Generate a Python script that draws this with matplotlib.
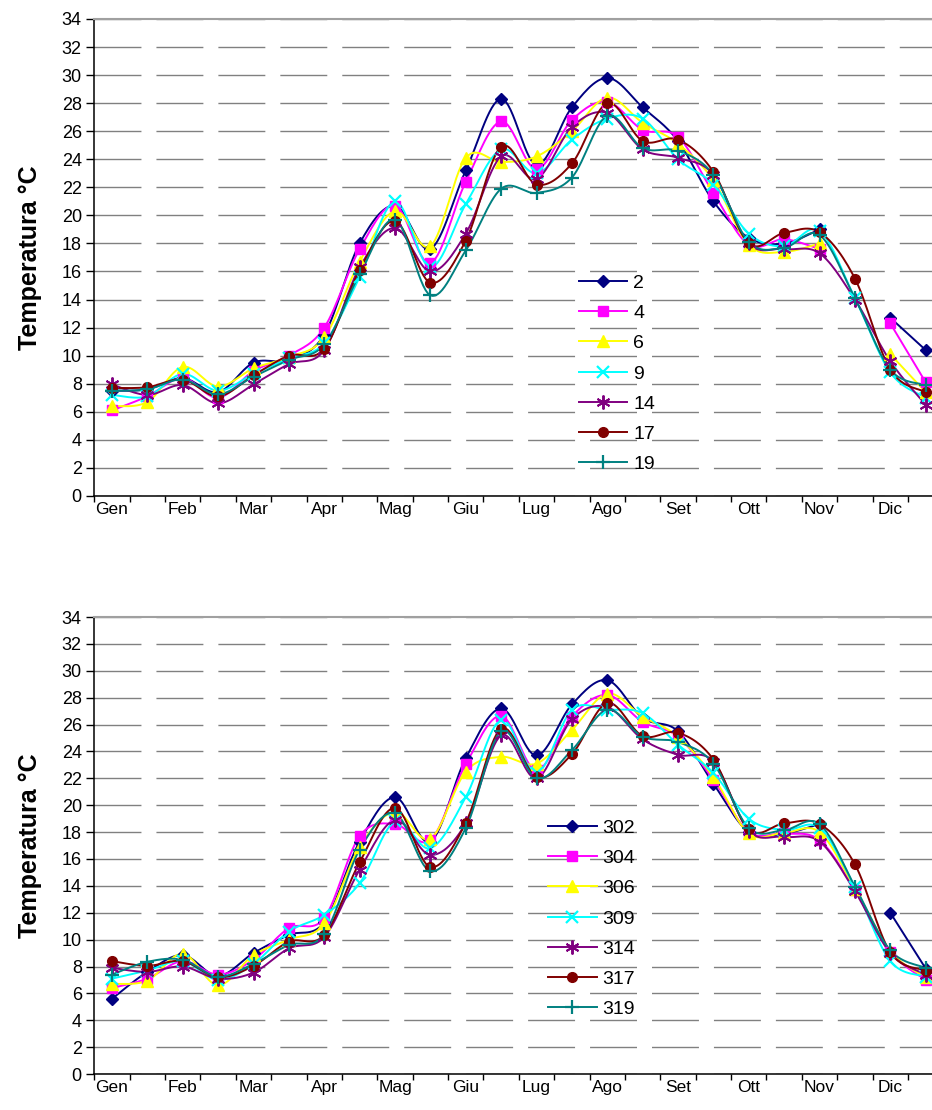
import numpy as np
import matplotlib.pyplot as plt
from matplotlib.lines import Line2D

plt.rcParams['font.family'] = ['Liberation Sans', 'DejaVu Sans']

nan = np.nan

# 24 half-month readings, labels on every second one
months = ['Gen', 'Feb', 'Mar', 'Apr', 'Mag', 'Giu', 'Lug', 'Ago', 'Set', 'Ott', 'Nov', 'Dic']

top_labels = ['2', '4', '6', '9', '14', '17', '19']
t2 = [7.5, 7.6, 8.4, 7.4, 9.5, 9.7, 11.5, 18.0, 20.7, 17.6, 23.2, 28.3,
      23.6, 27.7, 29.8, 27.7, 25.3, 21.0, 18.4, 18.0, 19.0, nan, 12.7, 10.4]
t4 = [6.1, 7.1, 8.4, 7.0, 8.9, 10.0, 12.0, 17.6, 20.7, 16.6, 22.4, 26.7,
      23.3, 26.8, 28.1, 26.1, 25.6, 21.6, 17.9, 18.3, 17.6, nan, 12.3, 8.1]
t6 = [6.4, 6.7, 9.2, 7.8, 9.1, 9.9, 11.3, 16.7, 20.3, 17.8, 24.1, 23.8,
      24.2, 26.0, 28.4, 26.6, 25.1, 22.5, 17.9, 17.4, 18.0, nan, 10.1, 7.4]
t9 = [7.2, 7.1, 8.7, 7.5, 8.7, 9.8, 10.9, 15.6, 21.0, 16.3, 20.8, 24.7,
      23.0, 25.4, 26.9, 26.9, 24.0, 22.2, 18.7, 17.8, 18.9, 14.1, 8.8, 7.0]
t14 = [7.95, 7.2, 7.9, 6.6, 7.95, 9.4, 10.4, 16.3, 19.1, 16.0, 18.7, 24.2,
       22.6, 26.3, 27.3, 24.7, 24.1, 22.9, 18.0, 17.6, 17.3, 14.0, 9.6, 6.5]
t17 = [7.7, 7.75, 8.3, 7.1, 8.6, 10.0, 10.5, 16.1, 19.6, 15.2, 18.2, 24.9,
       22.2, 23.7, 28.0, 25.3, 25.4, 23.1, 18.0, 18.75, 18.8, 15.5, 9.0, 7.4]
t19 = [7.5, 7.6, 8.3, 7.25, 8.5, 9.7, 10.8, 15.8, 19.7, 14.3, 17.5, 21.9,
       21.6, 22.7, 27.1, 24.8, 24.6, 22.9, 18.1, 17.7, 18.6, 14.1, 9.0, 7.9]

bot_labels = ['302', '304', '306', '309', '314', '317', '319']
b302 = [5.6, 7.6, 8.85, 7.3, 9.0, 10.35, 11.3, 17.3, 20.6, 17.3, 23.5, 27.2,
        23.7, 27.5, 29.3, 26.5, 25.5, 21.6, 18.0, 17.9, 18.6, nan, 12.0, 7.85]
b304 = [6.4, 7.1, 8.4, 7.4, 8.5, 10.85, 11.6, 17.7, 18.6, 17.4, 23.05, 26.65,
        22.6, 26.6, 28.2, 26.2, 25.1, 21.9, 18.0, 17.9, 17.4, 13.7, 9.1, 7.0]
b306 = [6.7, 6.95, 8.95, 6.6, 8.85, 10.0, 11.2, 16.9, 19.5, 17.5, 22.5, 23.6,
        23.1, 25.6, 28.3, 26.6, 25.1, 22.1, 17.9, 17.95, 18.0, 13.8, 9.15, 7.2]
b309 = [7.1, 7.7, 8.4, 7.0, 8.2, 10.6, 11.85, 14.2, 18.8, 16.8, 20.6, 26.35,
        22.4, 27.1, 27.1, 26.85, 24.5, 22.4, 19.0, 18.15, 18.3, 13.9, 8.4, 7.25]
b314 = [7.9, 7.6, 8.0, 7.1, 7.55, 9.35, 10.2, 15.2, 18.9, 16.3, 18.65, 25.2,
        22.0, 26.4, 27.3, 24.9, 23.75, 23.25, 18.1, 17.65, 17.3, 13.6, 9.0, 7.4]
b317 = [8.4, 8.05, 8.4, 7.2, 8.05, 9.85, 10.35, 15.75, 19.8, 15.4, 18.7, 25.7,
        22.1, 23.8, 27.6, 25.15, 25.4, 23.4, 18.2, 18.65, 18.6, 15.6, 9.05, 7.7]
b319 = [7.4, 8.35, 8.5, 7.25, 8.2, 9.6, 10.4, 16.7, 19.4, 15.1, 18.3, 25.5,
        22.0, 24.1, 27.1, 25.1, 24.7, 23.1, 18.3, 18.15, 18.6, 13.95, 9.2, 7.9]

# style of each series (same for both charts)
styles = [
    dict(color='#000080', marker='D', ms=6, mew=1),
    dict(color='#FF00FF', marker='s', ms=7, mew=1),
    dict(color='#FFFF00', marker='^', ms=8, mew=1),
    dict(color='#00FFFF', marker='x', ms=8, mew=1.6),
    dict(color='#800080', marker=(6, 2, 0), ms=10, mew=1.4),
    dict(color='#800000', marker='o', ms=7, mew=1),
    dict(color='#008080', marker='+', ms=10, mew=1.6),
]


def smooth(x, y, n=16):
    # Excel-like smoothed line: cubic bezier through the points, split at gaps
    x = np.asarray(x, float)
    y = np.asarray(y, float)
    ok = ~np.isnan(y)
    runs, cur = [], []
    for i in range(len(y)):
        if ok[i]:
            cur.append(i)
        elif cur:
            runs.append(cur)
            cur = []
    if cur:
        runs.append(cur)
    out = []
    for r in runs:
        px, py = x[r], y[r]
        m = len(r)
        if m == 1:
            continue
        xs, ys = [], []
        for k in range(m - 1):
            p0 = max(k - 1, 0)
            p3 = min(k + 2, m - 1)
            c1x = px[k] + (px[k + 1] - px[p0]) / 6
            c1y = py[k] + (py[k + 1] - py[p0]) / 6
            c2x = px[k + 1] - (px[p3] - px[k]) / 6
            c2y = py[k + 1] - (py[p3] - py[k]) / 6
            t = np.linspace(0, 1, n)
            a, b, c, d = (1 - t) ** 3, 3 * (1 - t) ** 2 * t, 3 * (1 - t) * t ** 2, t ** 3
            xs.extend(a * px[k] + b * c1x + c * c2x + d * px[k + 1])
            ys.extend(a * py[k] + b * c1y + c * c2y + d * py[k + 1])
        out.append((xs, ys))
    return out


def draw(ax, series, labels, leg_xy):
    x = np.arange(24) + 0.5
    handles = []
    for vals, st, lab in zip(series, styles, labels):
        for xs, ys in smooth(x, vals):
            ax.plot(xs, ys, color=st['color'], lw=1.4, zorder=3)
        ax.plot(x, vals, linestyle='none', marker=st['marker'], ms=st['ms'],
                mew=st['mew'], color=st['color'], mec=st['color'], zorder=4)
        handles.append(Line2D([], [], color=st['color'], lw=1.4, marker=st['marker'],
                              ms=st['ms'], mew=st['mew'], mec=st['color']))
    ax.set_xlim(0, 24)
    ax.set_ylim(0, 34)
    ax.set_yticks(np.arange(0, 35, 2))
    ax.set_xticks(np.arange(0, 25, 1))
    ax.set_xticklabels([])
    ax.set_xticks(np.arange(0, 24, 2) + 0.5, minor=True)
    ax.set_xticklabels(months, minor=True)
    ax.tick_params(axis='x', which='major', length=4, width=1, direction='out')
    ax.tick_params(axis='x', which='minor', length=0, pad=4, labelsize=12.5)
    ax.tick_params(axis='y', length=6, width=1, pad=3, labelsize=13)
    ax.yaxis.grid(True, color='#808080', lw=1.0, linestyle=(0, (33.8, 10.8)))
    ax.set_axisbelow(True)
    for s in ['left', 'bottom']:
        ax.spines[s].set_linewidth(1.1)
    ax.spines['right'].set_visible(False)
    ax.spines['top'].set_color('#a0a0a0')
    ax.spines['top'].set_linewidth(1.5)
    ax.set_ylabel('Temperatura °C', fontsize=18, fontweight='bold', labelpad=14)
    ax.figure.legend(handles=handles, labels=labels, loc='upper left',
                     bbox_to_anchor=leg_xy, frameon=False, fontsize=14,
                     handlelength=2.5, handletextpad=0.3, labelspacing=0.65,
                     borderpad=0, borderaxespad=0)


fig = plt.figure(figsize=(9.32, 11.1), dpi=100)
ax1 = fig.add_axes([0.1012, 0.5532, 0.911, 0.4297])
ax2 = fig.add_axes([0.1012, 0.0324, 0.911, 0.4117])

draw(ax1, [t2, t4, t6, t9, t14, t17, t19], top_labels, (0.621, 0.753))
draw(ax2, [b302, b304, b306, b309, b314, b317, b319], bot_labels, (0.588, 0.262))

fig.savefig('out.png', dpi=100)
